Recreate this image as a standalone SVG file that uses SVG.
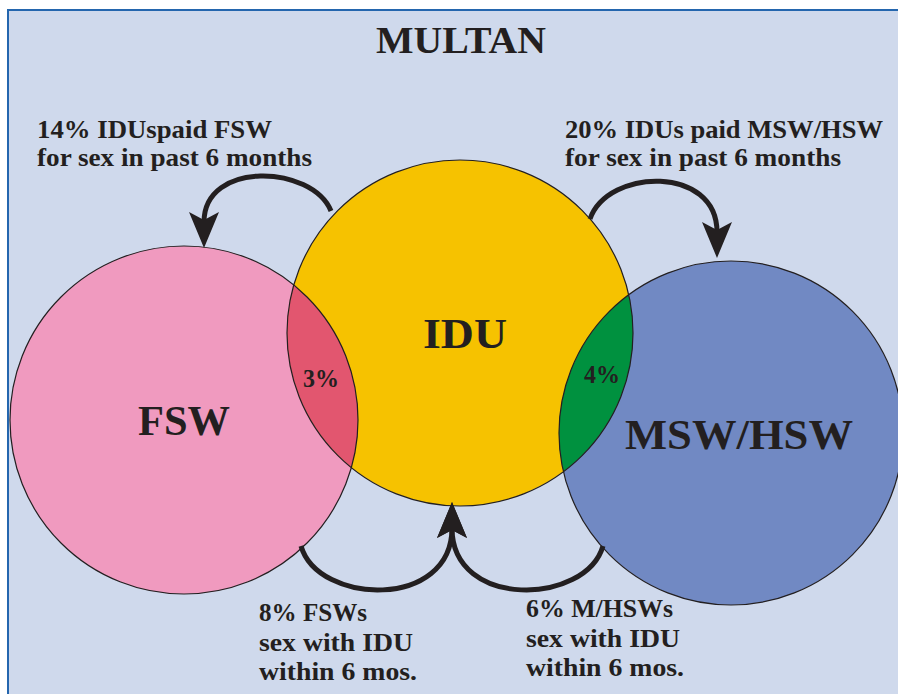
<svg xmlns="http://www.w3.org/2000/svg" width="898" height="694" viewBox="0 0 898 694">
<style>
text{font-family:"Liberation Serif","DejaVu Serif",serif;font-weight:bold;fill:#231F20}
.out{fill:none;stroke:#231F20;stroke-width:1.2}
.conn{fill:none;stroke:#231F20;stroke-width:5;marker-end:url(#ah)}
.lbl{font-size:25px}
.lbl2{font-size:26px}
.big{font-size:43px;text-anchor:middle}
.pct{font-size:25px}
</style>
<defs>
<marker id="ah" markerUnits="userSpaceOnUse" viewBox="0 0 36 30" markerWidth="36" markerHeight="30" refX="10" refY="15" orient="auto">
<path d="M0,0 L36,15 L0,30 L8,15 Z" fill="#231F20"/>
</marker>
<clipPath id="cFSW"><circle cx="184" cy="420" r="174"/></clipPath>
<clipPath id="cIDU"><circle cx="460" cy="333" r="173"/></clipPath>
</defs>
<rect x="0" y="0" width="898" height="694" fill="#ffffff"/>
<rect x="8" y="10" width="900" height="700" fill="#CFD9EC" stroke="#2466AE" stroke-width="2"/>
<text x="376" y="53" font-size="37" textLength="170" lengthAdjust="spacingAndGlyphs">MULTAN</text>

<g id="fsw"><circle cx="184" cy="420" r="174" fill="#F09ABF"/></g>
<g id="idu"><circle cx="460" cy="333" r="173" fill="#F6C200"/></g>
<g id="msw"><circle cx="731" cy="433" r="172" fill="#7189C3"/></g>
<g id="overlaps">
<circle cx="460" cy="333" r="173" fill="#E2566F" clip-path="url(#cFSW)"/>
<circle cx="731" cy="433" r="172" fill="#00913F" clip-path="url(#cIDU)"/>
</g>
<g id="outlines">
<circle class="out" cx="184" cy="420" r="174"/>
<circle class="out" cx="460" cy="333" r="173"/>
<circle class="out" cx="731" cy="433" r="172"/>
</g>
<g id="labels">
<text class="big" x="184" y="435" textLength="92" lengthAdjust="spacingAndGlyphs">FSW</text>
<text class="big" x="465" y="348" textLength="84" lengthAdjust="spacingAndGlyphs">IDU</text>
<text class="big" x="739" y="449" textLength="228" lengthAdjust="spacingAndGlyphs">MSW/HSW</text>
<text class="pct" x="303" y="387" textLength="36" lengthAdjust="spacingAndGlyphs">3%</text>
<text class="pct" x="584" y="383" textLength="36" lengthAdjust="spacingAndGlyphs">4%</text>
</g>

<g id="connectors">
<path class="conn" d="M331,211 C312,165 204,160 204,222"/>
<path class="conn" d="M590,219 C608,168 717,165 717,232"/>
<path class="conn" d="M301,546 C318,605 452,610 452,528"/>
<path class="conn" d="M603,546 C586,605 452,610 452,528"/>
</g>

<g id="connector-labels">
<text class="lbl" x="37" y="138" textLength="235" lengthAdjust="spacingAndGlyphs">14% IDUspaid FSW</text>
<text class="lbl" x="37" y="166" textLength="275" lengthAdjust="spacingAndGlyphs">for sex in past 6 months</text>
<text class="lbl" x="565" y="138" textLength="318" lengthAdjust="spacingAndGlyphs">20%  IDUs paid MSW/HSW</text>
<text class="lbl" x="565" y="166" textLength="276" lengthAdjust="spacingAndGlyphs">for sex in past 6 months</text>
<text class="lbl2" x="259" y="621" textLength="108" lengthAdjust="spacingAndGlyphs">8% FSWs</text>
<text class="lbl2" x="259" y="651" textLength="154" lengthAdjust="spacingAndGlyphs">sex with IDU</text>
<text class="lbl2" x="259" y="680" textLength="158" lengthAdjust="spacingAndGlyphs">within 6 mos.</text>
<text class="lbl2" x="526" y="617" textLength="147" lengthAdjust="spacingAndGlyphs">6% M/HSWs</text>
<text class="lbl2" x="526" y="647" textLength="154" lengthAdjust="spacingAndGlyphs">sex with IDU</text>
<text class="lbl2" x="526" y="676" textLength="158" lengthAdjust="spacingAndGlyphs">within 6 mos.</text>
</g>
</svg>
